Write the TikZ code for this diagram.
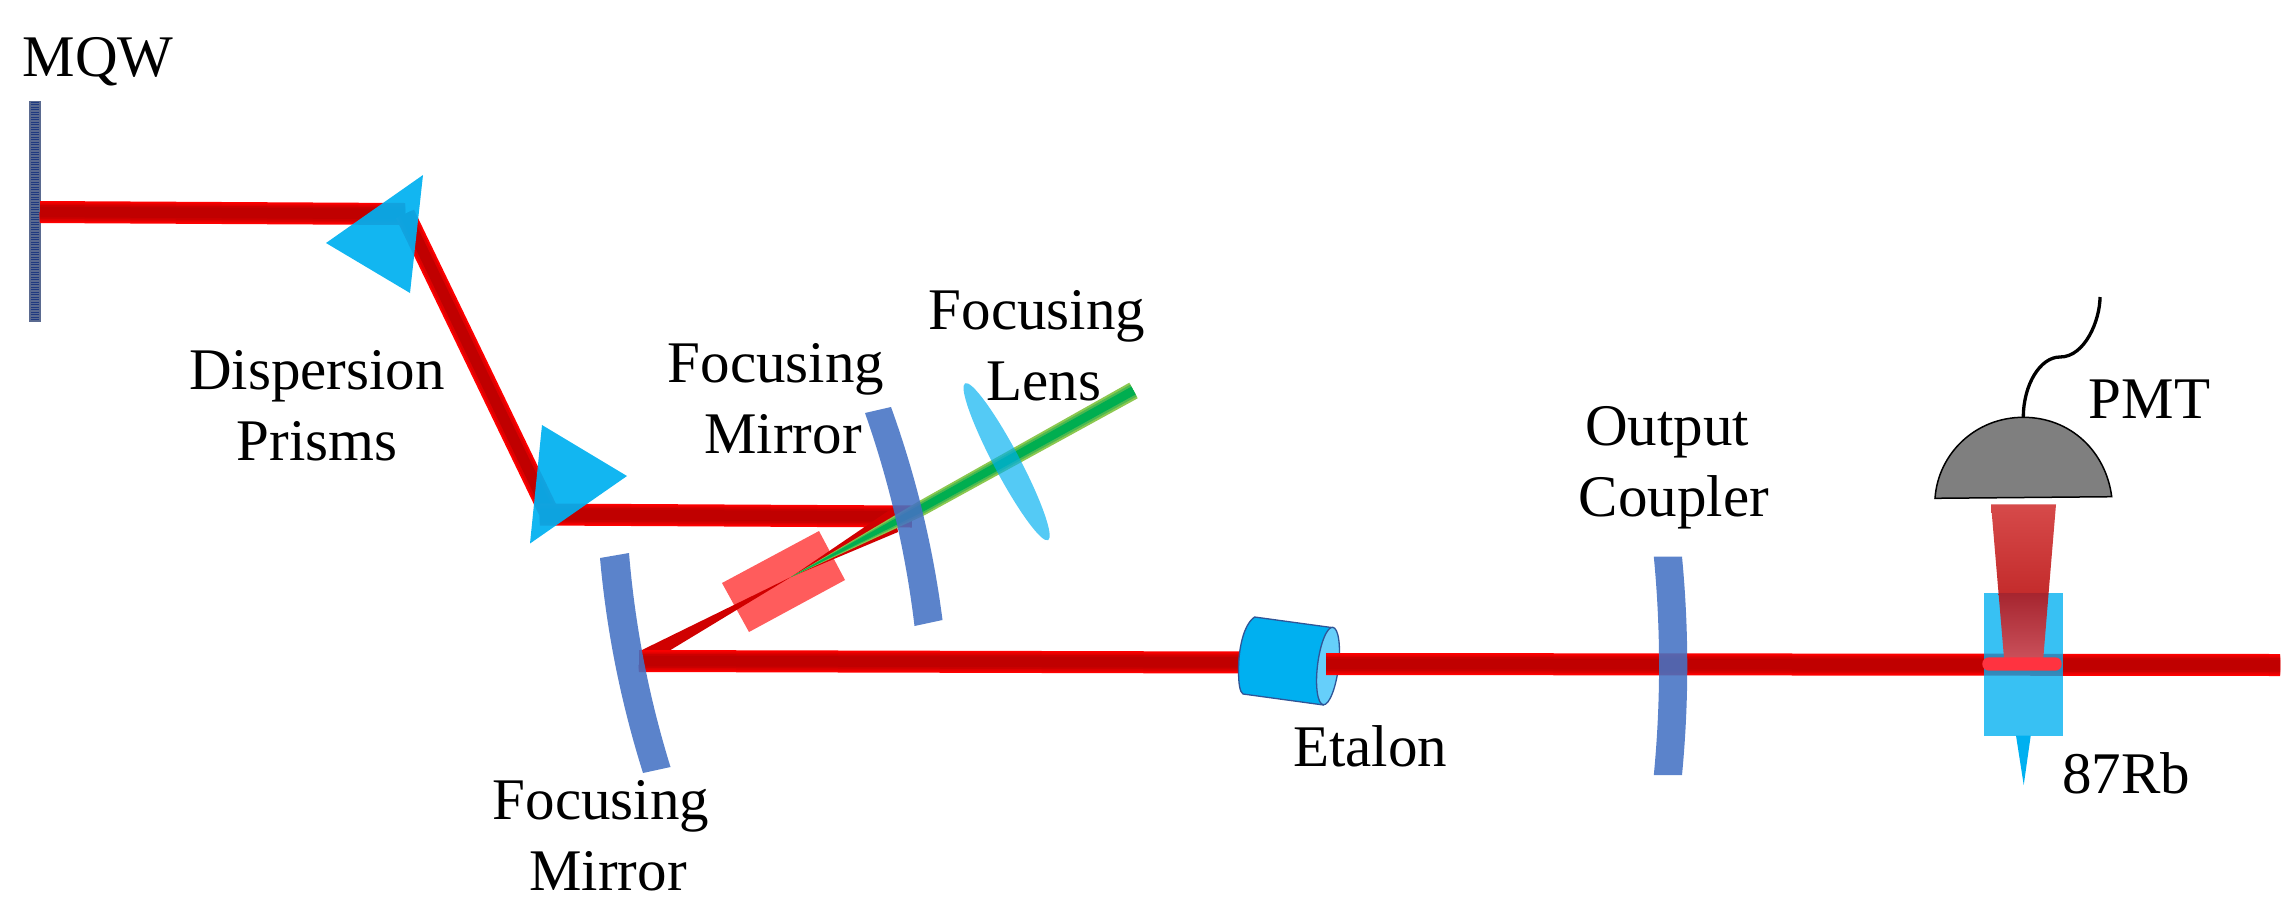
\documentclass[tikz,border=0pt]{standalone}
\usepackage{fontspec}
\setmainfont{Liberation Serif}
\usetikzlibrary{calc}
\definecolor{mirrorblue}{HTML}{4472C4}
\definecolor{prismblue}{HTML}{00B0F0}
\definecolor{facelight}{HTML}{66CFFA}
\definecolor{edgeblue}{HTML}{2F5597}
\definecolor{crystal}{HTML}{FF5C5C}
\definecolor{wedgered}{HTML}{D00000}
\definecolor{beamA}{HTML}{FF0000}
\definecolor{beamB}{HTML}{F00000}
\definecolor{beamC}{HTML}{DE0000}
\definecolor{beamD}{HTML}{CC0000}
\definecolor{beamE}{HTML}{C00000}
\definecolor{greenA}{HTML}{8CC850}
\definecolor{greenB}{HTML}{4CB850}
\definecolor{greenC}{HTML}{00AE50}
\definecolor{pmtgrey}{HTML}{7F7F7F}
\definecolor{pillred}{HTML}{FF3340}
\definecolor{fluA}{HTML}{D64A4A}
\definecolor{fluB}{HTML}{C42C2C}
\definecolor{fluC}{HTML}{A6252F}
\definecolor{fluD}{HTML}{C9505A}
\definecolor{mqwbase}{HTML}{5A6A90}
\definecolor{mqwline}{HTML}{1F3A80}
\tikzset{
  lbl/.style={inner sep=0pt,outer sep=0pt,align=center,font=\fontsize{59}{71}\selectfont,text=black},
  mirrorshape/.style={fill=mirrorblue,fill opacity=.88,draw=none},
  prismshape/.style={fill=prismblue,fill opacity=.93,draw=none}
}
\newcommand{\beamline}[2]{%
  \foreach \w/\c in {22/beamA,19.5/beamB,17/beamC,14/beamD,10.5/beamE}{%
    \draw[line width=\w pt,draw=\c] (#1) -- (#2);}}
\begin{document}
\begin{tikzpicture}[x=1pt,y=-1pt]
\useasboundingbox (0,0) rectangle (2293,916);
% named points of the beam path
\coordinate (mqw) at (40,212);
\coordinate (p1a) at (405,214);
\coordinate (p2a) at (550,514.5);
\coordinate (p2b) at (540,514.5);
\coordinate (m2) at (912,516.5);
\coordinate (m1) at (639,661);
\coordinate (etin) at (1250,662.5);
\coordinate (etout) at (1326,664);
\coordinate (endb) at (2280,665);
\coordinate (focus) at (791,577);
% MQW
\fill[mqwbase] (29,101) rectangle (40.6,321.5);
\foreach \yy in {102,104.5,...,321}{\draw[line width=1pt,draw=mqwline] (31,\yy) -- (39,\yy);}
% crystal
\fill[crystal] (722,583) -- (819,531) -- (845,580) -- (749,632) -- cycle;
% beams
\beamline{mqw}{p1a}
\draw[line width=20pt,draw=beamA] (p1a) -- (p2a);
\draw[line width=16pt,draw=beamC] (p1a) -- (p2a);
\draw[line width=11pt,draw=beamE] (p1a) -- (p2a);
\beamline{p2b}{m2}
\beamline{m1}{etin}
% wedges
\fill[wedgered] (642,650) -- (670.5,650) -- (focus) -- cycle;
\fill[wedgered] (focus) -- (894,507) -- (898,532) -- cycle;
\fill[greenA] (focus) -- (920,500.5) -- (1129.3,382.7) -- (1137.7,398.3) -- (925,515) -- cycle;
\fill[greenB] (focus) -- (920.6,502.3) -- (1130.3,384.6) -- (1136.7,396.4) -- (924.4,513.1) -- cycle;
\fill[greenC] (focus) -- (921.25,504.1) -- (1131.4,386.6) -- (1135.6,394.4) -- (923.75,511.3) -- cycle;
% prisms
\fill[prismshape] (423,175) -- (326,243) -- (410,293) -- cycle;
\fill[prismshape] (542,425) -- (627,476) -- (530,543.5) -- cycle;
% lens
\fill[prismblue,fill opacity=.67,shift={(1006.6,461.7)},rotate=117.9] (0,0) circle[x radius=88.8pt,y radius=13pt];
% mirrors
\fill[mirrorshape] (865,413) .. controls (889.3,482.2) and (905.8,553.2) .. (914.5,626) -- (942.5,620) .. controls (933.1,547.2) and (916,476.2) .. (891,407) -- cycle;
\fill[mirrorshape] (600,558) .. controls (606.5,631.2) and (620.9,702.8) .. (643,773) -- (670.5,767) .. controls (648.9,697.2) and (635,625.8) .. (629,553) -- cycle;
% etalon
\draw[line width=1.3pt,draw=edgeblue,fill=prismblue] (1333,627.7) -- (1254.6,617) .. controls (1243,625) and (1238.5,650) .. (1238.5,670) .. controls (1238.5,685) and (1240,692) .. (1243,694) -- (1323.5,705) -- cycle;
\draw[line width=1.3pt,draw=edgeblue,fill=facelight,shift={(1328,666)},rotate=83] (0,0) circle[x radius=39pt,y radius=10.5pt];
\beamline{etout}{endb}
% output coupler
\fill[mirrorshape] (1653.8,556.7) .. controls (1660.8,630) and (1660.8,702) .. (1653.8,775) -- (1682,775) .. controls (1689,702) and (1689,630) .. (1682,556.7) -- cycle;
% cell
\fill[prismblue] (2016,735.7) -- (2030.7,735.7) -- (2023.7,785) -- cycle;
\fill[prismblue,fill opacity=.78] (1984,593) rectangle (2063.3,735.7);
% fluorescence
\shade[top color=fluA,bottom color=fluB] (1991,504.3) -- (2056,504.3) -- (2048.6,593) -- (1998.5,593) -- cycle;
\shade[top color=fluC,bottom color=fluD] (1998.5,593) -- (2048.6,593) -- (2043.3,658) -- (2004,658) -- cycle;
\fill[pillred,rounded corners=6.5pt] (1982.3,657.3) rectangle (2061.7,670.7);
% PMT
\draw[line width=1.5pt,draw=black,fill=pmtgrey] (1935,498.3) .. controls (1938,454) and (1975,417.3) .. (2023.3,417.3) .. controls (2071,417.3) and (2106,452) .. (2111.7,496.7) -- cycle;
\draw[line width=3.3pt,draw=black] (2023.3,417.3) .. controls (2023.3,385) and (2040,357) .. (2060,357) .. controls (2085,357) and (2100,320) .. (2100,297);
% labels
\node[lbl,anchor=base] (tmqw) at (98,76.8) {MQW};
\node[lbl,anchor=base] (tdisp) at (317,460) {Dispersion\\Prisms};
\node[lbl,anchor=base] (tfm) at (776,453) {Focusing\\\hspace*{14pt}Mirror};
\node[lbl,anchor=base] (tfl) at (1037,400.7) {Focusing\\\hspace*{14pt}Lens};
\node[lbl,anchor=base] (tfm2) at (601,890.7) {Focusing\\\hspace*{14pt}Mirror};
\node[lbl,anchor=base] (toc) at (1674,516.7) {Output\hspace*{14pt}\\Coupler};
\node[lbl,anchor=base] (tet) at (1370,766.7) {Etalon};
\node[lbl,anchor=base] (tpmt) at (2149.5,418.5) {PMT};
\node[lbl,anchor=base] (trb) at (2126,793) {87Rb};
\end{tikzpicture}
\end{document}
